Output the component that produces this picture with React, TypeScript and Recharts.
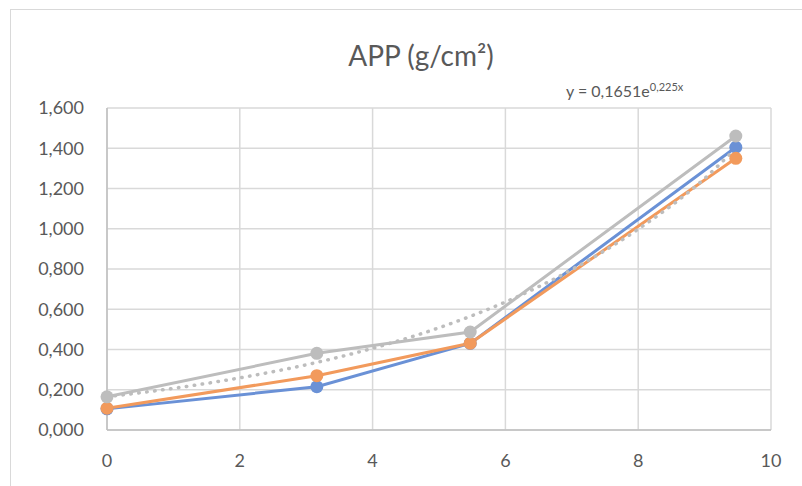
import { ComposedChart, Line, XAxis, YAxis, CartesianGrid } from 'recharts'

// measurement positions (x) and APP values for each series
const xValues = [0, 3.16, 5.47, 9.47]
const blueValues = [0.105, 0.215, 0.43, 1.405]
const orangeValues = [0.108, 0.27, 0.431, 1.35]
const grayValues = [0.165, 0.381, 0.487, 1.461]

// exponential trendline
const trendX = [0, 1, 2, 3, 4, 5, 6, 7, 8, 9, 9.47]
const trendValues = [0.165, 0.207, 0.259, 0.324, 0.406, 0.508, 0.636, 0.797, 0.998, 1.25, 1.4]

const xTicks = [0, 2, 4, 6, 8, 10]
const yTicks = [0, 0.2, 0.4, 0.6, 0.8, 1.0, 1.2, 1.4, 1.6]

const toRows = (xs: number[], ys: number[]) => xs.map((x, i) => ({ x, y: ys[i] }))

const blueData = toRows(xValues, blueValues)
const orangeData = toRows(xValues, orangeValues)
const grayData = toRows(xValues, grayValues)
const trendData = toRows(trendX, trendValues)

const BLUE = '#6a91d6'
const ORANGE = '#f29a5c'
const GRAY = '#bdbdbd'
const TEXT = '#595959'
const FONT = 'Lato, "Open Sans", sans-serif'

export default function App() {
  return (
    <div style={{ position: 'absolute', left: 0, top: 0, width: 802, height: 486, overflow: 'hidden', background: '#fff', fontFamily: FONT }}>
      {/* chart frame */}
      <div style={{ position: 'absolute', left: 10, top: 9, width: 820, height: 500, border: '1px solid #d9d9d9' }} />

      <div style={{ position: 'absolute', left: 0, top: 38, width: 842, textAlign: 'center', fontSize: 28, color: TEXT }}>
        APP (g/cm²)
      </div>
      <div style={{ position: 'absolute', left: 566, top: 80, fontSize: 16, color: TEXT, whiteSpace: 'nowrap' }}>
        y = 0,1651e<sup style={{ fontSize: 11 }}>0,225x</sup>
      </div>

      <ComposedChart
        width={802}
        height={486}
        margin={{ top: 108, right: 31, left: 27, bottom: 26 }}
        style={{ position: 'absolute', left: 0, top: 0 }}
      >
        <CartesianGrid stroke="#d9d9d9" strokeWidth={1.5} />
        <XAxis
          type="number"
          dataKey="x"
          domain={[0, 10]}
          ticks={xTicks}
          allowDuplicatedCategory={false}
          height={30}
          tickLine={false}
          tickSize={0}
          tickMargin={24}
          axisLine={{ stroke: '#bfbfbf', strokeWidth: 1.5 }}
          tick={{ fill: TEXT, fontSize: 18, fontFamily: FONT }}
        />
        <YAxis
          type="number"
          domain={[0, 1.6]}
          ticks={yTicks}
          width={80}
          tickLine={false}
          tickSize={0}
          tickMargin={23}
          axisLine={{ stroke: '#bfbfbf', strokeWidth: 1.5 }}
          tick={{ fill: TEXT, fontSize: 18, fontFamily: FONT }}
          tickFormatter={(v: number) => v.toFixed(3).replace('.', ',')}
        />
        <Line
          data={blueData}
          dataKey="y"
          type="linear"
          stroke={BLUE}
          strokeWidth={3}
          dot={{ r: 6.5, fill: BLUE, stroke: 'none' }}
          isAnimationActive={false}
        />
        <Line
          data={orangeData}
          dataKey="y"
          type="linear"
          stroke={ORANGE}
          strokeWidth={3}
          dot={{ r: 6.5, fill: ORANGE, stroke: 'none' }}
          isAnimationActive={false}
        />
        <Line
          data={grayData}
          dataKey="y"
          type="linear"
          stroke={GRAY}
          strokeWidth={3}
          dot={{ r: 6.5, fill: GRAY, stroke: 'none' }}
          isAnimationActive={false}
        />
        <Line
          data={trendData}
          dataKey="y"
          type="monotone"
          stroke={GRAY}
          strokeWidth={3.5}
          strokeLinecap="round"
          strokeDasharray="0.5 7.5"
          dot={false}
          isAnimationActive={false}
        />
      </ComposedChart>
    </div>
  )
}
